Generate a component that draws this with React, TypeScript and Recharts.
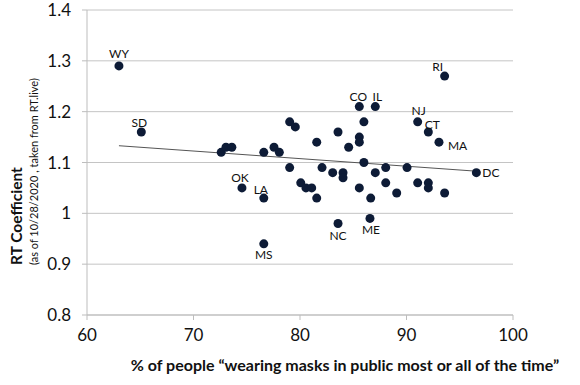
import React from "react";
import {
  ScatterChart,
  Scatter,
  XAxis,
  YAxis,
  CartesianGrid,
} from "recharts";

// mask wearing % per state vs RT coefficient
const maskPct = [
  63.0, 65.1, 72.6, 73.05, 73.6, 74.55, 76.6, 76.6, 76.6, 77.56, 78.06, 79.03,
  79.56, 79.03, 80.07, 80.56, 81.1, 81.57, 81.57, 82.07, 83.07, 83.57, 83.57,
  84.04, 84.04, 84.57, 85.57, 85.57, 85.57, 85.57, 86.0, 86.0, 87.07, 87.07,
  86.64, 86.57, 93.58, 91.05, 92.05, 93.05, 88.05, 90.05, 96.56, 88.05, 89.08,
  91.05, 92.05, 92.05, 93.58,
];
const rtValue = [
  1.29, 1.16, 1.12, 1.13, 1.13, 1.05, 1.12, 1.03, 0.94, 1.13, 1.12, 1.18, 1.17,
  1.09, 1.06, 1.05, 1.05, 1.14, 1.03, 1.09, 1.08, 1.16, 0.98, 1.08, 1.07, 1.13,
  1.15, 1.14, 1.05, 1.21, 1.18, 1.1, 1.21, 1.08, 1.03, 0.99, 1.27, 1.18, 1.16,
  1.14, 1.09, 1.09, 1.08, 1.06, 1.04, 1.06, 1.06, 1.05, 1.04,
];
const stateLabels = [
  "WY", "SD", "", "", "", "OK", "", "LA", "MS", "", "", "", "", "", "", "", "",
  "", "", "", "", "", "NC", "", "", "", "", "", "", "CO", "", "", "IL", "", "",
  "ME", "RI", "NJ", "CT", "MA", "", "", "DC", "", "", "", "", "", "",
];

// trend line end points
const trendX = [63, 96.5];
const trendY = [1.133, 1.083];

const xTicks = [60, 70, 80, 90, 100];
const yTicks = [0.8, 0.9, 1.0, 1.1, 1.2, 1.3, 1.4];

const points = maskPct.map((x, i) => ({ x, y: rtValue[i], label: stateLabels[i] }));
const trend = trendX.map((x, i) => ({ x, y: trendY[i] }));

// where each state code sits around its dot
const labelOffset: Record<string, [number, number, "start" | "middle"]> = {
  WY: [0, -12, "middle"],
  SD: [-2, -10, "middle"],
  RI: [-7, -10, "middle"],
  CO: [-1, -10, "middle"],
  IL: [2, -10, "middle"],
  NJ: [1, -11, "middle"],
  CT: [4, -8, "middle"],
  MA: [9, 3, "start"],
  DC: [6, 0, "start"],
  OK: [-2, -10, "middle"],
  LA: [-3, -9, "middle"],
  MS: [0, 11, "middle"],
  NC: [0, 12, "middle"],
  ME: [1, 11, "middle"],
};

const FONT = "Lato, 'Open Sans', sans-serif";

const Dot = (props: any) => {
  const { cx, cy, payload } = props;
  const off = labelOffset[payload.label];
  return (
    <g>
      <circle cx={cx} cy={cy} r={4.5} fill="#0d1b36" />
      {off && (
        <text
          x={cx + off[0]}
          y={cy + off[1]}
          textAnchor={off[2]}
          dominantBaseline="central"
          fontSize={12}
          fontFamily={FONT}
          fill="#111"
        >
          {payload.label}
        </text>
      )}
    </g>
  );
};

export default function App() {
  return (
    <div style={{ position: "absolute", left: 0, top: 0, background: "#fff" }}>
      <ScatterChart
        width={580}
        height={385}
        margin={{ top: 10, right: 67, bottom: 0, left: 0 }}
      >
        <CartesianGrid vertical={false} stroke="#c4c4c4" />
        <XAxis
          type="number"
          dataKey="x"
          domain={[60, 100]}
          ticks={xTicks}
          height={70}
          stroke="#bdbdbd"
          tickSize={5}
          tickMargin={9}
          tick={{ fontSize: 17, fill: "#111", fontFamily: FONT }}
        />
        <YAxis
          type="number"
          dataKey="y"
          domain={[0.8, 1.4]}
          ticks={yTicks}
          width={87}
          stroke="#bdbdbd"
          tickSize={5}
          tickMargin={11}
          tickFormatter={(v: number) => String(+v.toFixed(1))}
          tick={{ fontSize: 17, fill: "#111", fontFamily: FONT }}
        />
        <Scatter
          data={trend}
          line={{ stroke: "#555", strokeWidth: 1 }}
          shape={() => <g />}
          isAnimationActive={false}
        />
        <Scatter data={points} shape={Dot} isAnimationActive={false} />
        <text
          x={345}
          y={364}
          textAnchor="middle"
          dominantBaseline="central"
          fontSize={16}
          fontWeight="bold"
          fontFamily={FONT}
          fill="#111"
        >
          % of people “wearing masks in public most or all of the time”
        </text>
        <text
          transform="translate(16,265) rotate(-90)"
          textAnchor="start"
          dominantBaseline="central"
          fontSize={15.5}
          fontWeight="bold"
          fontFamily={FONT}
          fill="#111"
        >
          RT Coefficient
        </text>
        <text
          transform="translate(33,265) rotate(-90)"
          textAnchor="start"
          dominantBaseline="central"
          fontSize={11}
          fontFamily={FONT}
          fill="#111"
        >
          (as of 10/28/2020 , taken from RT.live)
        </text>
      </ScatterChart>
    </div>
  );
}
